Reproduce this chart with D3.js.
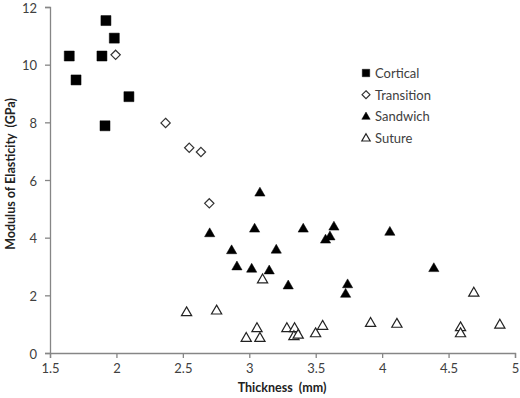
<!DOCTYPE html>
<html>
<head>
<meta charset="utf-8">
<script src="https://cdn.jsdelivr.net/npm/d3@7"></script>
<style>
  body { margin: 0; background: #fff; }
  text { font-family: Lato, "Open Sans", sans-serif; fill: #404040; }
</style>
</head>
<body>
<svg width="520" height="398"></svg>
<script>
var cortical = [[1.645, 10.30], [1.696, 9.47], [1.891, 10.30], [1.921, 11.53], [1.984, 10.92], [2.094, 8.89], [1.914, 7.88]];
var transition = [[1.994, 10.34], [2.37, 7.98], [2.548, 7.12], [2.636, 6.97], [2.699, 5.19]];
var sandwich = [[3.080, 5.58], [2.702, 4.17], [3.040, 4.33], [3.406, 4.33], [3.637, 4.40], [3.607, 4.06], [3.574, 3.95],
  [2.867, 3.58], [3.203, 3.60], [2.907, 3.02], [3.018, 2.94], [3.150, 2.88], [3.293, 2.36], [4.058, 4.22],
  [4.389, 2.96], [3.740, 2.40], [3.725, 2.07]];
var suture = [[2.528, 1.43], [2.754, 1.49], [2.977, 0.54], [3.058, 0.88], [3.080, 0.54], [3.100, 2.57], [3.283, 0.88],
  [3.341, 0.88], [3.336, 0.60], [3.368, 0.65], [3.499, 0.70], [3.552, 0.96], [3.913, 1.06], [4.111, 1.03],
  [4.590, 0.91], [4.590, 0.70], [4.690, 2.11], [4.886, 1.00]];
var xTicks = [1.5, 2, 2.5, 3, 3.5, 4, 4.5, 5];
var yTicks = [0, 2, 4, 6, 8, 10, 12];

var svg = d3.select('svg');
var x = d3.scaleLinear().domain([1.5, 5]).range([50, 515]);
var y = d3.scaleLinear().domain([0, 12]).range([353, 7]);

var axisColor = '#868686';

var gx = svg.append('g').attr('transform', 'translate(0,353)')
  .call(d3.axisBottom(x).tickValues(xTicks).tickSize(5).tickPadding(6).tickFormat(d3.format('')));
var gy = svg.append('g').attr('transform', 'translate(50,0)')
  .call(d3.axisLeft(y).tickValues(yTicks).tickSize(5).tickPadding(8));
[gx, gy].forEach(function(g) {
  g.select('.domain').attr('stroke', axisColor).attr('stroke-width', 1.3);
  g.selectAll('.tick line').attr('stroke', axisColor).attr('stroke-width', 1.3);
  g.selectAll('.tick text').style('font-size', '13px').style('fill', '#404040');
});
// keep the top label inside the frame
gy.selectAll('.tick text').attr('dy', '0.4em');

svg.append('text').attr('x', 282).attr('y', 392).attr('text-anchor', 'middle')
  .style('font-size', '12.5px').style('font-weight', 'bold').style('fill', '#222')
  .text('Thickness\u00a0\u00a0(mm)');
svg.append('text').attr('transform', 'translate(15,174) rotate(-90)').attr('text-anchor', 'middle')
  .style('font-size', '12.5px').style('font-weight', 'bold').style('fill', '#222')
  .text('Modulus of Elasticity\u00a0\u00a0(GPa)');

var sq = d3.symbol().type(d3.symbolSquare);
var dia = d3.symbol().type(d3.symbolDiamond2);
var tri = d3.symbol().type(d3.symbolTriangle2);

var series = [
  { name: 'Cortical', data: cortical, sym: sq, size: 100, lsize: 55, fill: '#000', stroke: '#000', sw: 0.5, dy: 0 },
  { name: 'Transition', data: transition, sym: dia, size: 55, lsize: 40, fill: '#fff', stroke: '#333', sw: 1.2, dy: 0 },
  { name: 'Sandwich', data: sandwich, sym: tri, size: 75, lsize: 50, fill: '#000', stroke: '#000', sw: 0.5, dy: 1 },
  { name: 'Suture', data: suture, sym: tri, size: 75, lsize: 50, fill: '#fff', stroke: '#222', sw: 1.2, dy: 1 }
];

series.forEach(function(s) {
  svg.append('g').selectAll('path').data(s.data).enter().append('path')
    .attr('transform', function(d) { return 'translate(' + x(d[0]) + ',' + (y(d[1]) + s.dy) + ')'; })
    .attr('d', s.sym.size(s.size)())
    .attr('fill', s.fill).attr('stroke', s.stroke).attr('stroke-width', s.sw);
});

var legend = svg.append('g').attr('transform', 'translate(366,73)');
series.forEach(function(s, i) {
  var row = legend.append('g').attr('transform', 'translate(0,' + (i * 21.7) + ')');
  row.append('path').attr('d', s.sym.size(s.lsize)())
    .attr('transform', 'translate(0,' + (s.dy * 0.5) + ')')
    .attr('fill', s.fill).attr('stroke', s.stroke).attr('stroke-width', s.sw);
  row.append('text').attr('x', 9).attr('y', 5).style('font-size', '13px').text(s.name);
});
</script>
</body>
</html>
